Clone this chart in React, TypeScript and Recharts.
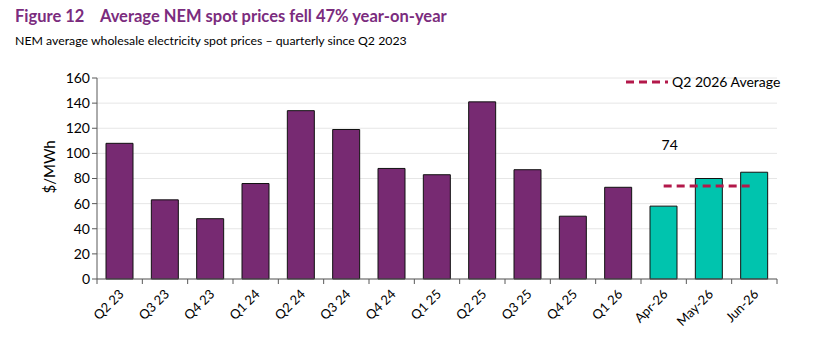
import {
  ComposedChart,
  Bar,
  Cell,
  Line,
  XAxis,
  YAxis,
  CartesianGrid,
  LabelList,
} from "recharts";

const categories = [
  "Q2 23", "Q3 23", "Q4 23", "Q1 24", "Q2 24", "Q3 24", "Q4 24",
  "Q1 25", "Q2 25", "Q3 25", "Q4 25", "Q1 26", "Apr-26", "May-26", "Jun-26",
];
const quarterlyPrices = [108, 63, 48, 76, 134, 119, 88, 83, 141, 87, 50, 73];
const monthlyPrices = [58, 80, 85];
const q2Average = 74;
const yTicks = [0, 20, 40, 60, 80, 100, 120, 140, 160];

const PURPLE = "#772A72";
const TEAL = "#00C4AE";
const RED = "#B3184A";
const FONT = "Lato, 'Open Sans', sans-serif";

const nQ = quarterlyPrices.length;
const rows = categories.map((label, i) => ({
  label,
  price: i < nQ ? quarterlyPrices[i] : monthlyPrices[i - nQ],
  monthly: i >= nQ,
  avg: i >= nQ ? q2Average : null,
}));

const W = 817;
const H = 346;
const PLOT_LEFT = 97;
const PLOT_RIGHT = 40;
const BAND = (W - PLOT_LEFT - PLOT_RIGHT) / categories.length;

const XTick = (props: any) => {
  const { x, y, payload, index } = props;
  const last = index === categories.length - 1;
  return (
    <g>
      <line x1={x - BAND / 2} y1={y - 8} x2={x - BAND / 2} y2={y - 3} stroke="#595959" />
      {last && <line x1={x + BAND / 2} y1={y - 8} x2={x + BAND / 2} y2={y - 3} stroke="#595959" />}
      <text
        x={x + 5}
        y={y + 8}
        textAnchor="end"
        transform={`rotate(-45, ${x + 5}, ${y + 8})`}
        fontSize={13}
        fontFamily={FONT}
        fill="#000"
      >
        {payload.value}
      </text>
    </g>
  );
};

const AvgLabel = (props: any) => {
  const { x, y, index } = props;
  if (index !== nQ) return null;
  return (
    <text x={x + 6} y={y - 36} textAnchor="middle" fontSize={14} fontFamily={FONT} fill="#000">
      {q2Average}
    </text>
  );
};

export default function App() {
  return (
    <div style={{ position: "fixed", left: 0, top: 0, width: W, height: H, background: "#fff" }}>
      <div
        style={{
          position: "absolute",
          left: 15,
          top: 6,
          fontFamily: FONT,
          fontWeight: "bold",
          fontSize: 16.5,
          color: "#7B2C7E",
          whiteSpace: "nowrap",
        }}
      >
        Figure 12&nbsp;&nbsp;&nbsp;&nbsp;Average NEM spot prices fell 47% year-on-year
      </div>
      <div
        style={{
          position: "absolute",
          left: 15,
          top: 33,
          fontFamily: FONT,
          fontSize: 12.3,
          color: "#000",
          whiteSpace: "nowrap",
        }}
      >
        NEM average wholesale electricity spot prices – quarterly since Q2 2023
      </div>
      <div style={{ position: "absolute", left: 0, top: 0 }}>
        <ComposedChart
          width={W}
          height={H}
          data={rows}
          margin={{ top: 78, right: PLOT_RIGHT, left: 57, bottom: 0 }}
        >
          <CartesianGrid vertical={false} stroke="#e6e6e6" />
          <XAxis
            dataKey="label"
            interval={0}
            height={67}
            axisLine={{ stroke: "#595959" }}
            tickLine={false}
            tick={<XTick />}
          />
          <YAxis
            domain={[0, 160]}
            ticks={yTicks}
            width={40}
            axisLine={{ stroke: "#595959" }}
            tickLine={{ stroke: "#595959" }}
            tickSize={5}
            tick={{ fontSize: 14, fontFamily: FONT, fill: "#000" }}
            label={{
              value: "$/MWh",
              angle: -90,
              position: "insideLeft",
              dx: -12,
              dy: 15,
              style: { fontSize: 15, fontFamily: FONT, fill: "#000" },
            }}
          />
          <Bar dataKey="price" barSize={27} stroke="#111" strokeWidth={1} isAnimationActive={false}>
            {rows.map((r, i) => (
              <Cell key={i} fill={r.monthly ? TEAL : PURPLE} />
            ))}
          </Bar>
          <Line
            dataKey="avg"
            stroke={RED}
            strokeWidth={3}
            strokeDasharray="8 5"
            dot={false}
            activeDot={false}
            connectNulls={false}
            isAnimationActive={false}
          >
            <LabelList dataKey="avg" content={<AvgLabel />} />
          </Line>
        </ComposedChart>
      </div>
      <div
        style={{
          position: "absolute",
          left: 624,
          top: 73,
          display: "flex",
          alignItems: "center",
          fontFamily: FONT,
          fontSize: 14,
          color: "#000",
          whiteSpace: "nowrap",
        }}
      >
        <svg width={46} height={10}>
          <line x1={2} y1={5} x2={44} y2={5} stroke={RED} strokeWidth={3} strokeDasharray="8 5" />
        </svg>
        <span style={{ marginLeft: 2 }}>Q2 2026 Average</span>
      </div>
    </div>
  );
}
